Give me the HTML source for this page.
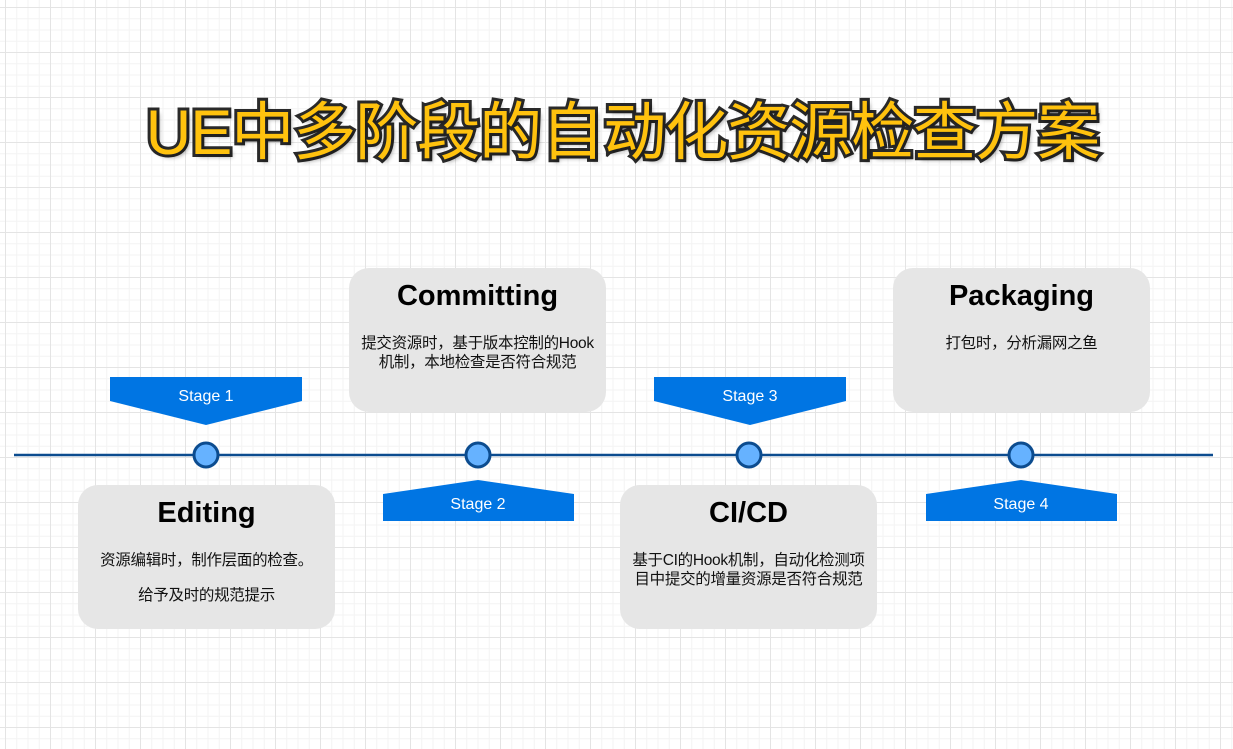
<!DOCTYPE html>
<html><head><meta charset="utf-8"><style>
body{margin:0;width:1233px;height:749px;overflow:hidden;background:#fff;
background-image:linear-gradient(#e4e4e4 1px,transparent 1px),linear-gradient(90deg,#e4e4e4 1px,transparent 1px),linear-gradient(#f3f3f3 1px,transparent 1px),linear-gradient(90deg,#f3f3f3 1px,transparent 1px);
background-size:45px 45px,45px 45px,11.25px 11.25px,11.25px 11.25px;background-position:5px 7px,5px 7px,5px 7px,5px 7px;
font-family:"Liberation Sans","Noto Sans CJK SC",sans-serif;position:relative}
.t{position:absolute;left:6px;width:1233px;top:82px;text-align:center;font-size:63px;font-weight:normal;color:#ffc20e;
-webkit-text-stroke:6px #2a2a2a;paint-order:stroke fill;text-shadow:3px 3px 4px rgba(0,0,0,.35);letter-spacing:-1px}
.box{position:absolute;width:257px;height:144px;background:#e6e6e6;border-radius:20px;text-align:center}
.box h2{margin:12px 0 0;font-size:29px;font-weight:bold;color:#000}
.box p{margin:21px 0 0;font-size:15.5px;line-height:19px;color:#111;white-space:nowrap;letter-spacing:-0.3px}
</style></head><body>
<div class="t">UE中多阶段的自动化资源检查方案</div>
<div class="box" style="left:349px;top:268px"><h2>Committing</h2><p>提交资源时，基于版本控制的Hook<br>机制，本地检查是否符合规范</p></div>
<div class="box" style="left:893px;top:268px"><h2>Packaging</h2><p>打包时，分析漏网之鱼</p></div>
<div class="box" style="left:78px;top:485px"><h2>Editing</h2><p>资源编辑时，制作层面的检查。</p><p style="margin-top:16px">给予及时的规范提示</p></div>
<div class="box" style="left:620px;top:485px"><h2>CI/CD</h2><p>基于CI的Hook机制，自动化检测项<br>目中提交的增量资源是否符合规范</p></div>
<svg width="1233" height="749" style="position:absolute;left:0;top:0">
<line x1="14" y1="455" x2="1213" y2="455" stroke="#0c4c8f" stroke-width="2.5"/>
<g fill="#0075e3">
<polygon points="110,377 302,377 302,401 206,425 110,401"/>
<polygon points="654,377 846,377 846,401 750,425 654,401"/>
<polygon points="383,494 478,480 574,494 574,521 383,521"/>
<polygon points="926,494 1021,480 1117,494 1117,521 926,521"/>
</g>
<g fill="#fff" font-size="16" text-anchor="middle" font-family="Liberation Sans,sans-serif">
<text x="206" y="401">Stage 1</text><text x="750" y="401">Stage 3</text>
<text x="478" y="509">Stage 2</text><text x="1021" y="509">Stage 4</text>
</g>
<g fill="#66b2ff" stroke="#0c4c8f" stroke-width="3">
<circle cx="206" cy="455" r="12"/><circle cx="478" cy="455" r="12"/><circle cx="749" cy="455" r="12"/><circle cx="1021" cy="455" r="12"/>
</g>
</svg>
</body></html>
